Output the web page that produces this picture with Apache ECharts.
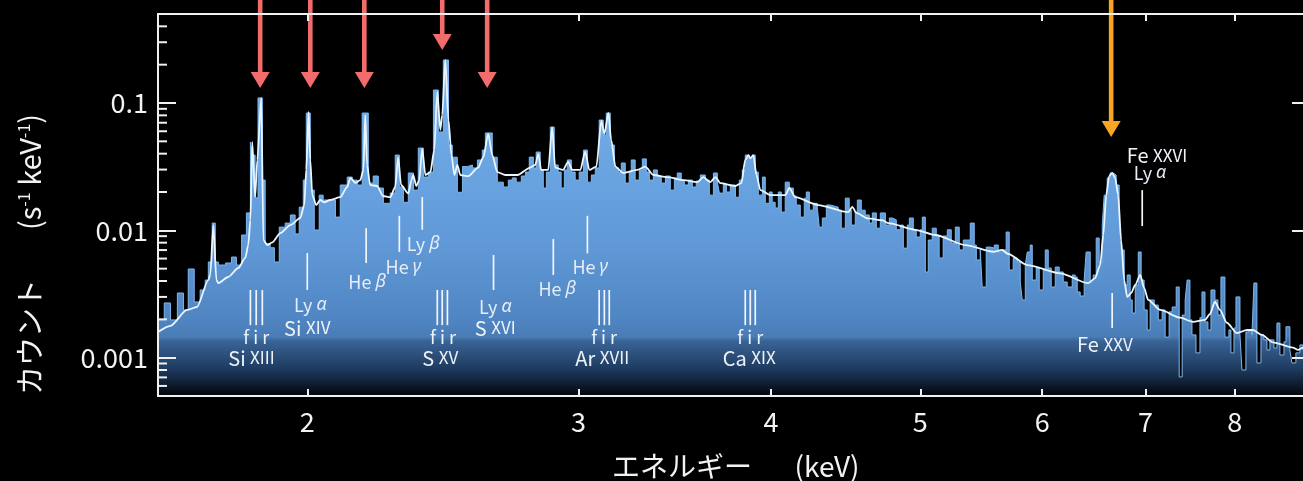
<!DOCTYPE html>
<html>
<head>
<meta charset="utf-8">
<title>X-ray spectrum</title>
<script src="https://cdn.jsdelivr.net/npm/echarts@6.0.0/dist/echarts.min.js"></script>
<style>
html,body{margin:0;padding:0;background:#000;overflow:hidden;width:1303px;height:481px;}
#chart{width:1320px;height:481px;}
</style>
</head>
<body>
<div id="chart"></div>
<script>
// ---------------- data ----------------
const xTickValues = [2, 3, 4, 5, 6, 7, 8];
const yTickValues = [0.001, 0.01, 0.1];
const yMinorTickValues = [0.0006, 0.0007, 0.0008, 0.0009,
  0.002, 0.003, 0.004, 0.005, 0.006, 0.007, 0.008, 0.009,
  0.02, 0.03, 0.04, 0.05, 0.06, 0.07, 0.08, 0.09,
  0.2, 0.3, 0.4];

// observed spectrum: bin left edges (keV) and counts (s^-1 keV^-1)
const binEnergy = [
  1.600, 1.615, 1.630, 1.647, 1.662, 1.674, 1.689, 1.704, 1.717, 1.725,
  1.735, 1.743, 1.751, 1.770, 1.786, 1.799, 1.813, 1.826, 1.837, 1.842,
  1.850, 1.858, 1.870, 1.878, 1.892, 1.904, 1.918, 1.935, 1.950, 1.964,
  1.976, 1.988, 1.997, 2.009, 2.021, 2.036, 2.048, 2.086, 2.101, 2.123,
  2.139, 2.155, 2.171, 2.191, 2.207, 2.224, 2.241, 2.264, 2.281, 2.295,
  2.309, 2.326, 2.344, 2.361, 2.379, 2.397, 2.415, 2.433, 2.451, 2.470,
  2.484, 2.503, 2.522, 2.541, 2.560, 2.579, 2.598, 2.610, 2.637, 2.657,
  2.681, 2.701,
  2.717, 2.733, 2.754, 2.771, 2.787, 2.804, 2.816, 2.833, 2.846, 2.859,
  2.876, 2.893, 2.910, 2.923, 2.937, 2.950, 2.968, 2.985, 3.003, 3.022,
  3.040, 3.058, 3.076, 3.094, 3.113, 3.127, 3.146, 3.165, 3.184, 3.198,
  3.217, 3.236, 3.246, 3.265, 3.285, 3.300, 3.320, 3.335, 3.355, 3.375,
  3.395, 3.416, 3.441, 3.462, 3.477, 3.498, 3.514, 3.535, 3.556, 3.577,
  3.599, 3.626, 3.648, 3.670, 3.692, 3.703, 3.725, 3.742, 3.764, 3.793,
  3.815, 3.832, 3.849, 3.872, 3.890, 3.907, 3.925, 3.949, 3.966, 3.990,
  4.007, 4.025, 4.044, 4.062, 4.086, 4.111, 4.136, 4.154, 4.179, 4.204,
  4.217, 4.236, 4.261, 4.287, 4.299, 4.319, 4.345, 4.371, 4.397, 4.423,
  4.443, 4.470, 4.496, 4.510, 4.537, 4.551, 4.578, 4.605, 4.633, 4.654,
  4.682, 4.710, 4.746, 4.774, 4.795, 4.824, 4.853, 4.875, 4.904, 4.919,
  4.948, 4.970, 5.000, 5.015, 5.038, 5.060, 5.090, 5.121, 5.143, 5.174,
  5.206, 5.237, 5.269, 5.300, 5.332, 5.356, 5.388, 5.420, 5.437, 5.469,
  5.485, 5.518, 5.551, 5.585, 5.618, 5.652, 5.685, 5.711, 5.745, 5.780,
  5.806, 5.823, 5.850, 5.867, 5.893, 5.911, 5.946, 5.973, 6.009, 6.027,
  6.054, 6.081, 6.118, 6.154, 6.191, 6.228, 6.275, 6.303, 6.322, 6.350,
  6.388, 6.407, 6.446, 6.475, 6.504, 6.533, 6.563, 6.582, 6.612, 6.641,
  6.671, 6.701, 6.731, 6.751, 6.782, 6.812, 6.843, 6.864, 6.895, 6.926,
  6.956, 6.987, 7.019, 7.050, 7.093, 7.136, 7.178, 7.210, 7.253, 7.286,
  7.330, 7.363, 7.396, 7.429, 7.451, 7.482, 7.505, 7.550, 7.595, 7.618,
  7.652, 7.686, 7.721, 7.767, 7.802, 7.837, 7.884, 7.931, 7.955, 7.991,
  8.015, 8.063, 8.087, 8.135, 8.172, 8.209, 8.233, 8.270, 8.320, 8.357,
  8.395, 8.432, 8.483, 8.521, 8.559, 8.611, 8.637, 8.688, 8.714, 8.766,
  8.819, 8.858
];
const binCounts = [
  0.00198, 0.00269, 0.00198, 0.00322, 0.00237, 0.00497, 0.00274, 0.00340, 0.00407, 0.00564,
  0.0114, 0.00564, 0.00534, 0.00554, 0.00617, 0.00534, 0.00919, 0.0137, 0.0494, 0.0390,
  0.0180, 0.1096, 0.0248, 0.00786, 0.00730, 0.00564, 0.0106, 0.0114, 0.0132, 0.00938,
  0.0152, 0.0248, 0.0834, 0.0207, 0.01006, 0.0189, 0.0173, 0.0127, 0.0227, 0.0262,
  0.0248, 0.0227, 0.0834, 0.0235, 0.0267, 0.0215, 0.0163, 0.0196, 0.0390, 0.0219,
  0.0166, 0.0282, 0.0207, 0.0443, 0.0262, 0.0287, 0.1265, 0.0592, 0.2177, 0.0468,
  0.0375, 0.0199, 0.0317, 0.0326, 0.0309, 0.0357, 0.0427, 0.0582, 0.0375, 0.0239,
  0.0219, 0.0248,
  0.0258, 0.0239, 0.0267, 0.0287, 0.0376, 0.0309, 0.0412, 0.0298, 0.0215, 0.0287,
  0.0647, 0.0326, 0.0287, 0.0215, 0.0298, 0.0357, 0.0287, 0.0248, 0.0287, 0.0427,
  0.0239, 0.0272, 0.0309, 0.0735, 0.0560, 0.0834, 0.0468, 0.0309, 0.0287, 0.0338,
  0.0235, 0.0287, 0.0357, 0.0248, 0.0298, 0.0364, 0.0287, 0.0248, 0.0298, 0.0267,
  0.0235, 0.0267, 0.0207, 0.0258, 0.0282, 0.0248, 0.0227, 0.0248, 0.0219, 0.0244,
  0.0272, 0.0248, 0.0189, 0.0282, 0.0239, 0.0196, 0.0231, 0.0200, 0.0227, 0.0182,
  0.0248, 0.0298, 0.0390, 0.0368, 0.0390, 0.0287, 0.0189, 0.0262, 0.0163, 0.0200,
  0.0166, 0.0150, 0.0200, 0.0139, 0.0239, 0.0215, 0.0186, 0.0158, 0.0127, 0.0179,
  0.0200, 0.0144, 0.0163, 0.0150, 0.0106, 0.0125, 0.0158, 0.0155, 0.0152, 0.0144,
  0.0104, 0.0179, 0.0144, 0.0110, 0.0139, 0.0173, 0.0144, 0.0132, 0.0114, 0.0137,
  0.0104, 0.0137, 0.0110, 0.0125, 0.0121, 0.0101, 0.0110, 0.00725, 0.0110, 0.0125,
  0.0101, 0.00886, 0.0101, 0.0127, 0.00471, 0.00839, 0.0104, 0.00903, 0.00607, 0.00903,
  0.0101, 0.00795, 0.0106, 0.00701, 0.00839, 0.00839, 0.0114, 0.00766, 0.00585, 0.00701,
  0.00359, 0.00739, 0.00725, 0.00766, 0.00676, 0.00701, 0.00970, 0.00488, 0.00607, 0.00564,
  0.00393, 0.00284, 0.00534, 0.00676, 0.00766, 0.00407, 0.00506, 0.00340, 0.00488, 0.00701,
  0.00506, 0.00359, 0.00515, 0.00471, 0.00393, 0.00359, 0.00446, 0.00430, 0.00328, 0.00305,
  0.00407, 0.00676, 0.00393, 0.00446, 0.00870, 0.00564, 0.0110, 0.0189, 0.0258, 0.0282,
  0.0272, 0.0227, 0.0132, 0.00701, 0.00372, 0.00446, 0.00284, 0.00224, 0.00372, 0.00676,
  0.00407, 0.00237, 0.00165, 0.00284, 0.00259, 0.00198, 0.00237, 0.00145, 0.00229, 0.00250,
  0.00359, 0.000705, 0.00216, 0.00284, 0.00407, 0.00198, 0.00151, 0.00109, 0.00206, 0.00328,
  0.00191, 0.00165, 0.00340, 0.00284, 0.00216, 0.00430, 0.00145, 0.00165, 0.00109, 0.00171,
  0.00300, 0.00151, 0.000800, 0.00159, 0.00165, 0.00151, 0.00386, 0.000909, 0.00151, 0.00138,
  0.00115, 0.00138, 0.00119, 0.00187, 0.00105, 0.00133, 0.00175, 0.00115, 0.000909, 0.00109,
  0.00126, 0.00115
];
const lastBinEdge = 8.953;

// model curve (white line)
const modelEnergy = [
  1.600, 1.630, 1.671, 1.696, 1.725, 1.730, 1.738, 1.746, 1.751, 1.777,
  1.804, 1.823, 1.831, 1.837, 1.842, 1.850, 1.856, 1.867, 1.873, 1.884,
  1.898, 1.921, 1.950, 1.979, 1.991, 1.997, 2.004, 2.009, 2.015, 2.027,
  2.039, 2.051, 2.070, 2.101, 2.123, 2.133, 2.149, 2.165, 2.175, 2.181,
  2.187, 2.197, 2.220, 2.240, 2.264, 2.281, 2.291, 2.301, 2.326, 2.337,
  2.343, 2.354, 2.364, 2.375, 2.386, 2.404, 2.418, 2.429, 2.440, 2.447,
  2.458, 2.470, 2.481, 2.492, 2.503, 2.514, 2.544, 2.582, 2.602, 2.621,
  2.637, 2.657, 2.689, 2.738, 2.791, 2.812, 2.825, 2.837, 2.867, 2.884,
  2.897, 2.931, 2.954, 2.972, 3.008, 3.030, 3.049, 3.081, 3.104, 3.118,
  3.137, 3.150, 3.170, 3.207, 3.275, 3.315, 3.355, 3.426, 3.509, 3.583,
  3.615, 3.653, 3.681, 3.708, 3.792, 3.827, 3.849, 3.867, 3.878, 3.896,
  3.914, 3.937, 3.996, 4.087, 4.111, 4.148, 4.293, 4.490, 4.517, 4.544,
  4.625, 4.724, 4.767, 4.963, 5.113, 5.348, 5.576, 5.651, 5.702, 5.867,
  6.163, 6.426, 6.494, 6.543, 6.573, 6.602, 6.631, 6.661, 6.691, 6.721,
  6.751, 6.782, 6.812, 6.853, 6.894, 6.946, 6.987, 7.029, 7.157, 7.374,
  7.516, 7.652, 7.709, 7.767, 7.825, 7.907, 8.027, 8.148, 8.221, 8.332,
  8.470, 8.728, 8.794, 8.860, 8.953
];
const modelCounts = [
  0.00159, 0.00178, 0.00237, 0.00250, 0.00407, 0.00446, 0.0110, 0.00407, 0.00385, 0.00430,
  0.00506, 0.00607, 0.00766, 0.01205, 0.0494, 0.0183, 0.0357, 0.1096, 0.00839, 0.00766,
  0.00804, 0.00952, 0.0110, 0.0125, 0.0158, 0.0298, 0.0851, 0.0357, 0.0189, 0.0158,
  0.0173, 0.0166, 0.0173, 0.0182, 0.0219, 0.0258, 0.0236, 0.0248, 0.0298, 0.0804,
  0.0326, 0.0227, 0.0223, 0.0186, 0.0182, 0.0219, 0.0375, 0.0227, 0.0195, 0.0248,
  0.0272, 0.0223, 0.0248, 0.0437, 0.0272, 0.0287, 0.0427, 0.1220, 0.0614, 0.0804,
  0.2177, 0.0735, 0.0390, 0.0272, 0.0326, 0.0272, 0.0267, 0.0311, 0.0375, 0.0572,
  0.0390, 0.0287, 0.0272, 0.0272, 0.0311, 0.0326, 0.0399, 0.0298, 0.0298, 0.0642,
  0.0311, 0.0298, 0.0345, 0.0298, 0.0298, 0.0415, 0.0298, 0.0317, 0.0723, 0.0572,
  0.0836, 0.0512, 0.0317, 0.0282, 0.0298, 0.0317, 0.0272, 0.0262, 0.0248, 0.0239,
  0.0262, 0.0239, 0.0262, 0.0235, 0.0223, 0.0235, 0.0357, 0.0390, 0.0368, 0.0390,
  0.0272, 0.0207, 0.0189, 0.0189, 0.0215, 0.0182, 0.0158, 0.0139, 0.0153, 0.0137,
  0.0124, 0.0120, 0.0114, 0.0101, 0.00919, 0.00766, 0.00679, 0.00701, 0.00652, 0.00534,
  0.00460, 0.00385, 0.00422, 0.00534, 0.00919, 0.0189, 0.0267, 0.0282, 0.0258, 0.0189,
  0.00839, 0.00407, 0.00300, 0.00322, 0.00372, 0.00446, 0.00353, 0.00284, 0.00237, 0.00206,
  0.00191, 0.00198, 0.00220, 0.00275, 0.00237, 0.00188, 0.00156, 0.00165, 0.00165, 0.00151,
  0.00132, 0.00120, 0.00115, 0.00120, 0.00118
];

// line identification ticks (energy, top value, bottom value)
const markerEnergy = [1.837, 1.853, 1.870, 2.000, 2.184, 2.295, 2.375, 2.429, 2.447, 2.466,
  2.642, 2.889, 3.040, 3.094, 3.118, 3.141, 3.849, 3.878, 3.907, 6.661, 6.967];
const markerTop = [0.0034, 0.0034, 0.0034, 0.00664, 0.0104, 0.0130, 0.0183, 0.0034, 0.0034, 0.0034,
  0.0064, 0.00855, 0.0130, 0.0034, 0.0034, 0.0034, 0.0034, 0.0034, 0.0034, 0.00322, 0.0207];
const markerBottom = [0.0018, 0.0018, 0.0018, 0.0034, 0.00554, 0.00676, 0.0101, 0.0018, 0.0018, 0.0018,
  0.0034, 0.00446, 0.0066, 0.0018, 0.0018, 0.0018, 0.0018, 0.0018, 0.0018, 0.00171, 0.0108];

// line labels
const labelEnergy = [1.853, 1.840, 2.009, 2.000, 2.187, 2.309, 2.378, 2.450, 2.440, 2.649,
  2.649, 2.906, 3.053, 3.117, 3.108, 3.878, 3.872, 6.589, 7.122, 7.048];
const labelCounts = [0.00145, 0.000994, 0.00259, 0.00171, 0.00393, 0.00515, 0.00781, 0.00145, 0.000994, 0.0025,
  0.00171, 0.00346, 0.00515, 0.00145, 0.000994, 0.00145, 0.000994, 0.00126, 0.039, 0.0282];
const labelText = ['{f|f i r}', '{n|Si }{r|XIII}', '{l|Ly }{g|α}', '{n|Si }{r|XIV}', '{l|He }{g|β}',
  '{l|He }{g|γ}', '{l|Ly }{g|β}', '{f|f i r}', '{n|S }{r|XV}', '{l|Ly }{g|α}',
  '{n|S }{r|XVI}', '{l|He }{g|β}', '{l|He }{g|γ}', '{f|f i r}', '{n|Ar }{r|XVII}',
  '{f|f i r}', '{n|Ca }{r|XIX}', '{n|Fe }{r|XXV}', '{n|Fe }{r|XXVI}', '{l|Ly }{g|α}'];

// arrows (energy, tip value)
const redArrowEnergy = [1.864, 2.009, 2.178, 2.447, 2.617];
const redArrowTip = [0.131, 0.131, 0.131, 0.261, 0.131];
const orangeArrowEnergy = [6.651];
const orangeArrowTip = [0.0541];

// ---------------- chart ----------------
const chart = echarts.init(document.getElementById('chart'), null, {renderer: 'canvas'});
const axisWhite = '#f0f0f0';
const cjk = 'Noto Sans CJK JP';

const spectrumData = binEnergy.map((e, i) => [e, binCounts[i]]);
spectrumData.push([lastBinEdge, binCounts[binCounts.length - 1]]);
const modelData = modelEnergy.map((e, i) => [e, modelCounts[i]]);
const markerData = markerEnergy.map((e, i) => [e, markerTop[i], markerBottom[i]]);
const labelData = labelEnergy.map((e, i) => [e, labelCounts[i], i]);
const redArrowData = redArrowEnergy.map((e, i) => [e, redArrowTip[i]]);
const orangeArrowData = orangeArrowEnergy.map((e, i) => [e, orangeArrowTip[i]]);
const minorTickData = yMinorTickValues.map(v => [1.6, v]);

const areaFill = new echarts.graphic.LinearGradient(0, 14, 0, 396, [
  {offset: 0.0, color: '#80bdf3'},
  {offset: 0.3, color: '#6eaae6'},
  {offset: 0.6, color: '#6199d8'},
  {offset: 0.8, color: '#4f85c2'},
  {offset: 0.845, color: '#4a7cb6'},
  {offset: 0.856, color: '#3a6496'},
  {offset: 0.93, color: '#1e3a5e'},
  {offset: 1.0, color: '#02050a'}
], true);

const labelColor = '#eef3f9';
const labelRich = {
  f: {fontSize: 18, fontFamily: cjk, fill: labelColor},
  n: {fontSize: 20, fontFamily: cjk, fill: labelColor},
  r: {fontSize: 17, fontFamily: cjk, fill: labelColor},
  l: {fontSize: 18, fontFamily: cjk, fill: '#e6edf6'},
  g: {fontSize: 18, fontFamily: 'Noto Sans', fontStyle: 'italic', fill: '#e6edf6'}
};

function arrowRenderer(color) {
  return function (params, api) {
    const tip = api.coord([api.value(0), api.value(1)]);
    const x = tip[0], y = tip[1];
    return {
      type: 'group',
      children: [
        {type: 'rect', shape: {x: x - 2.3, y: 0, width: 4.6, height: Math.max(0, y - 15)}, style: {fill: color}},
        {type: 'polygon', shape: {points: [[x - 9.5, y - 16], [x + 9.5, y - 16], [x, y]]}, style: {fill: color}}
      ]
    };
  };
}

function logAxis(extra) {
  return Object.assign({
    type: 'log', logBase: 10, z: 10,
    splitLine: {show: false}, minorTick: {show: false}, minorSplitLine: {show: false}
  }, extra);
}

const xCommon = {min: 1.6, max: 8.953};
const yCommon = {min: 0.0005, max: 0.5};

const option = {
  backgroundColor: '#000000',
  animation: false,
  grid: {left: 158, right: 10, top: 14, bottom: 85, containLabel: false, outerBoundsMode: 'none'},
  xAxis: [
    logAxis(Object.assign({}, xCommon, {
      position: 'bottom',
      axisLine: {show: true, onZero: false, lineStyle: {color: axisWhite, width: 2}},
      axisTick: {show: true, inside: true, length: 7, customValues: xTickValues, lineStyle: {color: axisWhite, width: 2}},
      axisLabel: {show: true, customValues: xTickValues, color: '#f2f2f2', fontSize: 27, fontFamily: cjk, margin: 12,
        formatter: v => String(Math.round(v))}
    })),
    logAxis(Object.assign({}, xCommon, {
      position: 'top',
      axisLine: {show: true, onZero: false, lineStyle: {color: axisWhite, width: 2}},
      axisTick: {show: true, inside: true, length: 7, customValues: xTickValues, lineStyle: {color: axisWhite, width: 2}},
      axisLabel: {show: false}
    }))
  ],
  yAxis: [
    logAxis(Object.assign({}, yCommon, {
      position: 'left',
      axisLine: {show: true, onZero: false, lineStyle: {color: axisWhite, width: 2}},
      axisTick: {show: true, inside: true, length: 18, customValues: yTickValues, lineStyle: {color: axisWhite, width: 2}},
      axisLabel: {show: true, customValues: yTickValues, color: '#f2f2f2', fontSize: 27, fontFamily: cjk, margin: 10,
        formatter: v => String(+(+v).toPrecision(2))}
    })),
    logAxis(Object.assign({}, yCommon, {
      position: 'right',
      axisLine: {show: true, onZero: false, lineStyle: {color: axisWhite, width: 2}},
      axisTick: {show: true, inside: true, length: 18, customValues: yTickValues, lineStyle: {color: axisWhite, width: 2}},
      axisLabel: {show: false}
    }))
  ],
  series: [
    {
      name: 'data', type: 'line', xAxisIndex: 0, yAxisIndex: 0,
      data: spectrumData, step: 'end', symbol: 'none', showSymbol: false, silent: true,
      lineStyle: {color: '#7db7ec', width: 1},
      areaStyle: {origin: 'start', color: areaFill, opacity: 1},
      z: 2
    },
    {
      name: 'model', type: 'line', xAxisIndex: 0, yAxisIndex: 0,
      data: modelData, symbol: 'none', showSymbol: false, silent: true,
      smooth: 0.25, smoothMonotone: 'x',
      lineStyle: {color: '#eaf6ff', width: 1.8},
      z: 3
    },
    {
      name: 'minorTicks', type: 'custom', coordinateSystem: 'cartesian2d', xAxisIndex: 0, yAxisIndex: 0,
      data: minorTickData, silent: true, clip: false, z: 12,
      encode: {x: 0, y: 1},
      renderItem: function (params, api) {
        const p = api.coord([api.value(0), api.value(1)]);
        return {type: 'line', shape: {x1: p[0], y1: p[1], x2: p[0] + 9, y2: p[1]},
          style: {stroke: axisWhite, lineWidth: 2}};
      }
    },
    {
      name: 'markers', type: 'custom', coordinateSystem: 'cartesian2d', xAxisIndex: 0, yAxisIndex: 0,
      data: markerData, silent: true, clip: false, z: 4,
      encode: {x: 0, y: [1, 2]},
      renderItem: function (params, api) {
        const p1 = api.coord([api.value(0), api.value(1)]);
        const p2 = api.coord([api.value(0), api.value(2)]);
        return {type: 'line', shape: {x1: p1[0], y1: p1[1], x2: p2[0], y2: p2[1]},
          style: {stroke: '#f2f6fb', lineWidth: 1.7}};
      }
    },
    {
      name: 'labels', type: 'custom', coordinateSystem: 'cartesian2d', xAxisIndex: 0, yAxisIndex: 0,
      data: labelData, silent: true, clip: false, z: 5,
      encode: {x: 0, y: 1},
      renderItem: function (params, api) {
        const p = api.coord([api.value(0), api.value(1)]);
        const idx = api.value(2);
        return {type: 'text', x: p[0], y: p[1],
          style: {text: labelText[idx], rich: labelRich, align: 'center', verticalAlign: 'middle',
            fill: labelColor, fontSize: 18, fontFamily: cjk}};
      }
    },
    {
      name: 'redArrows', type: 'custom', coordinateSystem: 'cartesian2d', xAxisIndex: 0, yAxisIndex: 0,
      data: redArrowData, silent: true, clip: false, z: 6,
      encode: {x: 0, y: 1},
      renderItem: arrowRenderer('#f26c6c')
    },
    {
      name: 'orangeArrow', type: 'custom', coordinateSystem: 'cartesian2d', xAxisIndex: 0, yAxisIndex: 0,
      data: orangeArrowData, silent: true, clip: false, z: 6,
      encode: {x: 0, y: 1},
      renderItem: arrowRenderer('#f6a623')
    }
  ],
  graphic: [
    {type: 'text', x: 682, y: 466, silent: true,
      style: {text: 'エネルギー', fontSize: 28, fontFamily: cjk, fill: '#f2f2f2', align: 'center', verticalAlign: 'middle'}},
    {type: 'text', x: 827, y: 466, silent: true,
      style: {text: '(keV)', fontSize: 28, fontFamily: cjk, fill: '#f2f2f2', align: 'center', verticalAlign: 'middle'}},
    {type: 'text', x: 30, y: 337, rotation: Math.PI / 2, silent: true,
      style: {text: 'カウント', fontSize: 29, fontFamily: cjk, fill: '#f2f2f2', align: 'center', verticalAlign: 'middle'}},
    {type: 'text', x: 30, y: 172, rotation: Math.PI / 2, silent: true,
      style: {text: '{a|(s}{s|-1}{a| keV}{s|-1}{a|)}', align: 'center', verticalAlign: 'middle',
        rich: {
          a: {fontSize: 29, fontFamily: cjk, fill: '#f2f2f2'},
          s: {fontSize: 16, fontFamily: cjk, fill: '#f2f2f2', verticalAlign: 'top'}
        }}}
  ]
};

chart.setOption(option);
</script>
</body>
</html>
